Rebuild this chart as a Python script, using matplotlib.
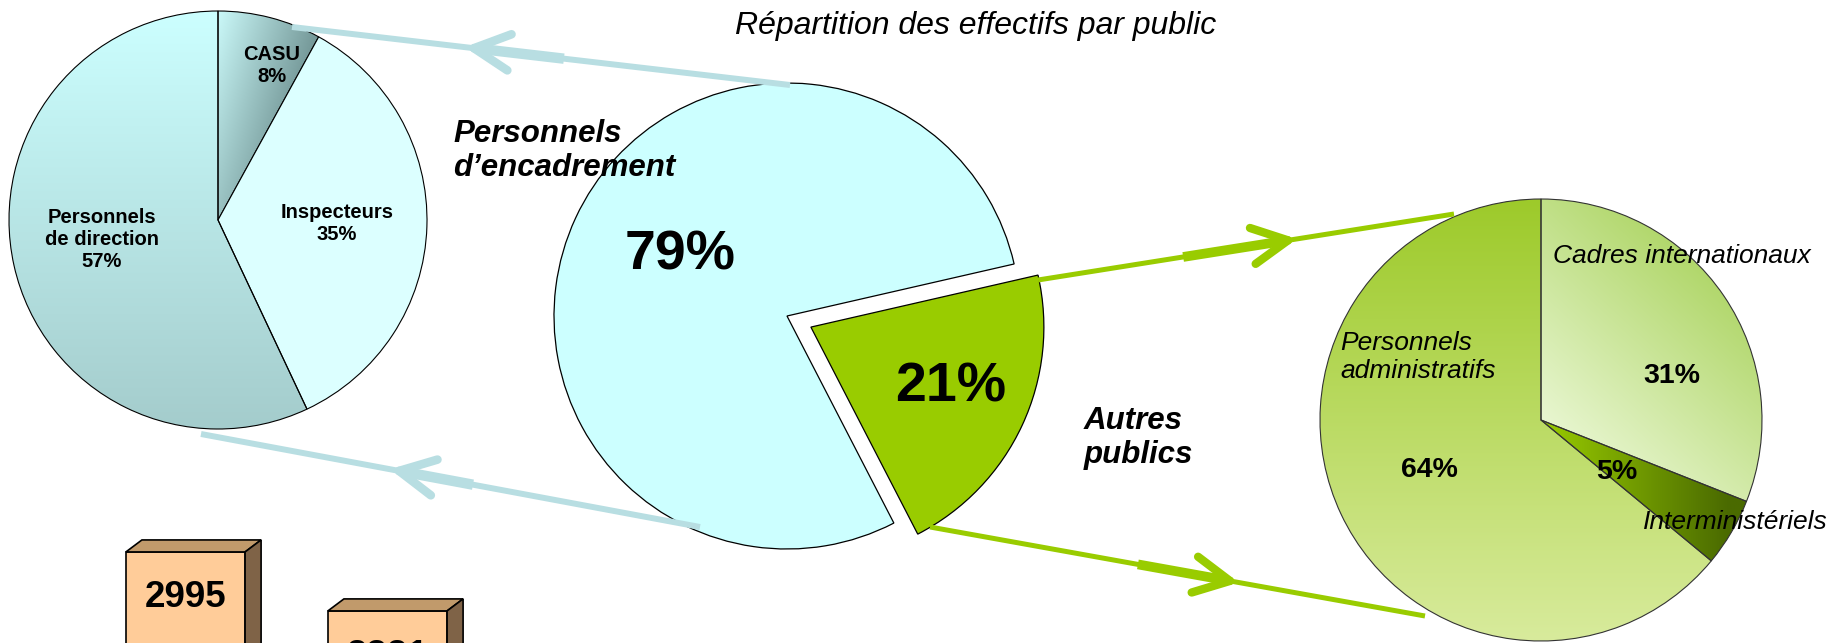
import numpy as np
import matplotlib
matplotlib.use('Agg')
import matplotlib.pyplot as plt
from matplotlib.lines import Line2D
from matplotlib.patches import Polygon
from matplotlib.colors import to_rgb

W, H = 1835, 643
DPI = 100

# --- data ---
title = "Répartition des effectifs par public"
public_labels = ["Autres\npublics", "Personnels\nd’encadrement"]
public_pct = [21, 79]
encadrement_labels = ["CASU", "Inspecteurs", "Personnels\nde direction"]
encadrement_pct = [8, 35, 57]
autres_labels = ["Cadres internationaux", "Interministériels", "Personnels\nadministratifs"]
autres_pct = [31, 5, 64]
effectifs = [2995, 2321]

plt.rcParams['font.family'] = ['Liberation Sans', 'DejaVu Sans']

fig = plt.figure(figsize=(W / DPI, H / DPI), dpi=DPI)


def fx(x):
    return x / W


def fy(y):
    return 1 - y / H


def pie_axes(cx, cy, r, pad=1.3):
    h = r * pad
    ax = fig.add_axes([fx(cx - h), fy(cy + h), 2 * h / W, 2 * h / H])
    return ax


def finish(ax, pad=1.3):
    ax.set_xlim(-pad, pad)
    ax.set_ylim(-pad, pad)
    ax.set_aspect('equal')
    ax.axis('off')


def gradient(ax, wedge, tfunc, c0, c1, n=300):
    g = np.linspace(-1.2, 1.2, n)
    X, Y = np.meshgrid(g, g)
    t = np.clip(tfunc(X, Y), 0, 1)[..., None]
    img = np.array(to_rgb(c0)) * (1 - t) + np.array(to_rgb(c1)) * t
    im = ax.imshow(img, extent=(-1.2, 1.2, -1.2, 1.2), origin='lower',
                   zorder=0, interpolation='bilinear')
    im.set_clip_path(wedge)
    wedge.set_facecolor('none')


def label(x, y, s, size, weight='normal', style='normal', ha='center'):
    fig.text(fx(x), fy(y), s, fontsize=size, fontweight=weight, fontstyle=style,
             ha=ha, va='center', multialignment=ha, linespacing=1.2)


# --- left pie: personnels d'encadrement ---
axl = pie_axes(218, 220, 209)
wl, _ = axl.pie(encadrement_pct, startangle=90, counterclock=False, radius=1,
                colors=['#9ccccc', '#dcffff', '#b8e6e6'],
                wedgeprops=dict(edgecolor='black', linewidth=0.8))
gradient(axl, wl[0], lambda X, Y: X / 0.5 * 0.75 + (0.95 - Y) * 0.45, '#c8f6f6', '#587878')
gradient(axl, wl[2], lambda X, Y: (1 - Y) / 2, '#ccffff', '#a4cccc')
finish(axl)

# --- center pie ---
axc = pie_axes(787, 316, 233)
axc.pie(public_pct, startangle=-62.7, counterclock=True, radius=1,
        explode=[0.113, 0], colors=['#99cc00', '#ccffff'],
        wedgeprops=dict(edgecolor='black', linewidth=0.9))
finish(axc)

# --- right pie: autres publics ---
axr = pie_axes(1541, 420, 221)
wr, _ = axr.pie(autres_pct, startangle=90, counterclock=False, radius=1,
                colors=['#c8e49a', '#77a000', '#bcdc70'],
                wedgeprops=dict(edgecolor='#333333', linewidth=0.8))
gradient(axr, wr[0], lambda X, Y: 0.65 * Y + 0.6 * X, '#e8f6d0', '#aad35e')
gradient(axr, wr[1], lambda X, Y: X / 0.85, '#99cc00', '#4a6a00')
gradient(axr, wr[2], lambda X, Y: (1 - Y) / 2, '#9dca2a', '#d8eb9c')
finish(axr)

# --- 3D boxes (effectifs) ---
px_per_unit = 0.0875
ymax = 3500
axb = fig.add_axes([fx(3.7), fy(814), 565.6 / W, ymax * px_per_unit / H])
xpos = np.arange(len(effectifs))
bw = 0.59
bars = axb.bar(xpos, effectifs, width=bw, color='#ffcc99', edgecolor='black', linewidth=1.2, zorder=2)
dx, dy = 16 / 202, 12 / px_per_unit
for x, v in zip(xpos, effectifs):
    l, r = x - bw / 2, x + bw / 2
    axb.add_patch(Polygon([(l, v), (r, v), (r + dx, v + dy), (l + dx, v + dy)],
                          closed=True, facecolor='#c19a6b', edgecolor='black', lw=1.2, zorder=2))
    axb.add_patch(Polygon([(r, 0), (r, v), (r + dx, v + dy), (r + dx, dy)],
                          closed=True, facecolor='#7f6347', edgecolor='black', lw=1.2, zorder=2))
    axb.annotate(str(v), (x, v), xytext=(0, -33), textcoords='offset points',
                 ha='center', va='center', fontsize=26.5, fontweight='bold')
axb.set_xlim(-0.9, 1.9)
axb.set_ylim(0, ymax)
axb.axis('off')


# --- arrows ---
def arrow(start, end, t_tip, t_thick, color, lw, lw_thick, lw_head, head_len=40, head_ang=27):
    p0 = np.array(start, float)
    p1 = np.array(end, float)
    d = p1 - p0
    u = d / np.linalg.norm(d)
    tip = p0 + d * t_tip
    th0 = p0 + d * t_thick
    th1 = tip - u * 8
    fig.add_artist(Line2D([fx(p0[0]), fx(p1[0])], [fy(p0[1]), fy(p1[1])],
                          color=color, lw=lw, solid_capstyle='butt'))
    fig.add_artist(Line2D([fx(th0[0]), fx(th1[0])], [fy(th0[1]), fy(th1[1])],
                          color=color, lw=lw_thick, solid_capstyle='butt'))
    for s in (1, -1):
        a = np.deg2rad(s * head_ang)
        rot = np.array([[np.cos(a), -np.sin(a)], [np.sin(a), np.cos(a)]])
        arm = tip - rot @ u * head_len
        fig.add_artist(Line2D([fx(tip[0]), fx(arm[0])], [fy(tip[1]), fy(arm[1])],
                              color=color, lw=lw_head, solid_capstyle='round'))


blue = '#b8dee2'
green = '#99cc00'
arrow((790, 85), (292, 27), 0.6345, 0.454, blue, 4.3, 7.5, 6.2)
arrow((700, 527), (201, 434), 0.603, 0.455, blue, 4.3, 7.5, 6.2)
arrow((1038, 280), (1454, 214), 0.601, 0.349, green, 3.6, 7.0, 6.0)
arrow((930, 527), (1425, 616), 0.606, 0.42, green, 3.6, 7.0, 6.0)

# --- texts ---
label(976, 26, title, 23, style='italic')

label(272, 66, f"{encadrement_labels[0]}\n{encadrement_pct[0]}%", 14.5, weight='bold')
label(337, 224, f"{encadrement_labels[1]}\n{encadrement_pct[1]}%", 14.5, weight='bold')
label(102, 240, f"{encadrement_labels[2]}\n{encadrement_pct[2]}%", 14.5, weight='bold')

label(680, 255, f"{public_pct[1]}%", 40, weight='bold')
label(951, 388, f"{public_pct[0]}%", 40, weight='bold')
label(453, 151, public_labels[1], 22.5, weight='bold', style='italic', ha='left')
label(1084, 438, public_labels[0], 22.5, weight='bold', style='italic', ha='left')

label(1553, 256, autres_labels[0], 19, style='italic', ha='left')
label(1672, 376, f"{autres_pct[0]}%", 20.5, weight='bold')
label(1643, 522, autres_labels[1], 19, style='italic', ha='left')
label(1617, 472, f"{autres_pct[1]}%", 20.5, weight='bold')
label(1340, 357, autres_labels[2], 19, style='italic', ha='left')
label(1429, 470, f"{autres_pct[2]}%", 20.5, weight='bold')

fig.savefig('out.png', dpi=DPI)
